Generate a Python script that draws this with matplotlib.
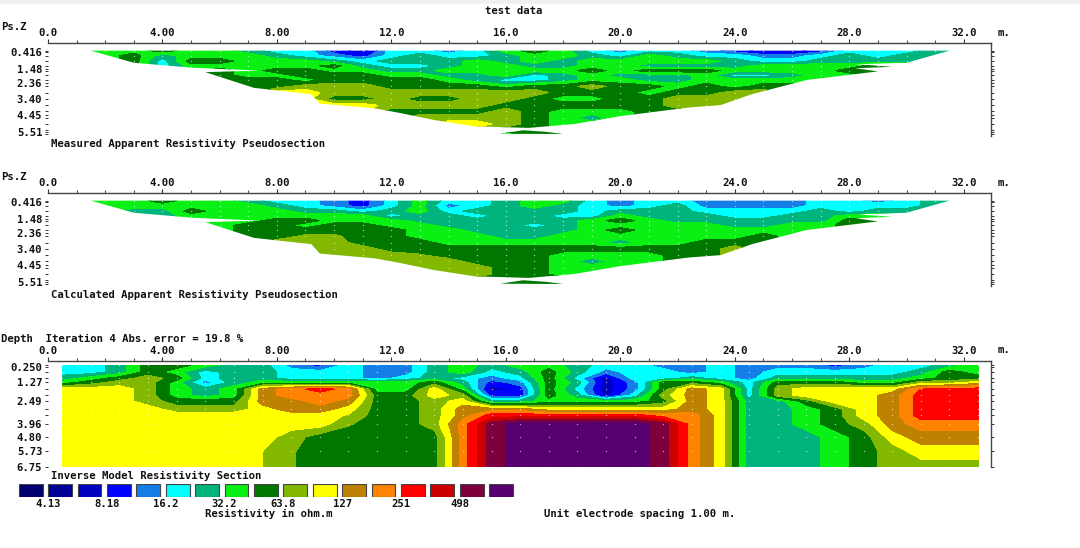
import numpy as np
import matplotlib
matplotlib.use("Agg")
import matplotlib.pyplot as plt
from matplotlib.path import Path
from matplotlib.patches import PathPatch, Rectangle

W, H = 1080, 548
FONT = dict(family="DejaVu Sans Mono", fontweight="bold", fontsize=7.65, color="#111111")

_ = np.nan

# one colour per resistivity class, values below are class numbers
class_colors = ["#00006e", "#000096", "#0000be", "#0000ff", "#147de6", "#00ffff",
                "#00b47d", "#0af014", "#007800", "#82b900", "#ffff00", "#be8200",
                "#ff8200", "#ff0000", "#cd0000", "#7d003c", "#55006e"]
legend_labels = ["4.13", "8.18", "16.2", "32.2", "63.8", "127", "251", "498"]

x_ticks = [0, 4, 8, 12, 16, 20, 24, 28, 32]
x_labels = ["0.0", "4.00", "8.00", "12.0", "16.0", "20.0", "24.0", "28.0", "32.0"]

pseudo_ticks = [0.416, 1.48, 2.36, 3.40, 4.45, 5.51]
pseudo_labels = ["0.416", "1.48", "2.36", "3.40", "4.45", "5.51"]
model_ticks = [0.25, 1.27, 2.49, 3.96, 4.80, 5.73, 6.75]
model_labels = ["0.250", "1.27", "2.49", "3.96", "4.80", "5.73", "6.75"]

pseudo_x = list(range(1, 33))
pseudo_z = [0.33, 0.65, 1.0, 1.3, 1.6, 1.9, 2.2, 2.6, 3.0, 3.4, 3.8, 4.2, 4.6, 5.0, 5.4, 5.65]

# edge of the measured points, same for both pseudosections
outline_x = [1.5, 31.5, 30, 28.2, 29.5, 28.2, 29, 26.5, 24.6, 23.5, 22.4, 20, 18.4, 16.8, 14.9,
             13.5, 12.3, 11.4, 9.5, 9.2, 7.2, 5.5, 7.4, 5.06, 3]
outline_z = [0.33, 0.33, 1.1, 1.2, 1.36, 1.45, 1.65, 2.2, 3.1, 3.8, 3.95, 4.5, 5.0, 5.25, 5.15,
             4.75, 4.3, 4.0, 3.7, 3.1, 2.7, 1.7, 1.6, 1.42, 1.1]
tip_x = [15.8, 16.6, 17.4, 18]
tip_z = [5.62, 5.4, 5.5, 5.64]

measured = [
    [7, 7, 7, 8, 7, 7, 6, 5, 5, 3, 2, 5, 5, 4, 5, 7, 8, 7, 5, 4, 5, 5, 4, 3, 2, 2, 3, 5, 5, 5, 6, 6],
    [7, 7, 8, 6, 7, 7, 7, 6, 5, 4, 3, 5, 6, 5, 5, 6, 7, 7, 6, 5, 7, 6, 5, 5, 4, 4, 5, 6, 5, 6, 6, 6],
    [_, _, 8, 5, 8, 8, 7, 7, 7, 6, 5, 6, 6, 6, 7, 6, 7, 6, 7, 7, 7, 7, 7, 6, 5, 5, 6, 6, 6, 6, 6, _],
    [_] * 4 + [7, 7, 7, 7, 7, 8, 6, 5, 5, 6, 7, 7, 6, 6, 7, 7, 6, 6, 6, 6, 7, 7, 7, 7, 8, 8] + [_] * 2,
    [_] * 5 + [8, 7, 8, 8, 7, 7, 6, 6, 7, 7, 7, 7, 7, 8, 7, 8, 8, 8, 7, 7, 7, 7, 8, 8] + [_] * 3,
    [_] * 5 + [8, 7, 7, 8, 8, 8, 7, 7, 6, 6, 7, 5, 6, 7, 6, 6, 6, 7, 5, 5, 6, 7, 7] + [_] * 4,
    [_] * 6 + [8, 8, 7, 8, 8, 8, 8, 7, 6, 5, 5, 6, 7, 7, 6, 6, 7, 7, 7, 7, 7] + [_] * 5,
    [_] * 7 + [8, 9, 9, 9, 8, 8, 8, 8, 7, 8, 8, 9, 8, 8, 7, 8, 7, 8, 8] + [_] * 6,
    [_] * 7 + [10, 10, 9, 9, 9, 9, 9, 9, 9, 9, 8, 8, 8, 7, 8, 8, 9, 9] + [_] * 7,
    [_] * 9 + [8, 8, 9, 8, 8, 9, 9, 8, 7, 7, 8, 8, 9, 9, 9, 9] + [_] * 7,
    [_] * 9 + [10, 10, 9, 9, 9, 9, 8, 8, 8, 8, 8, 8, 9, 9] + [_] * 9,
    [_] * 11 + [8, 8, 8, 8, 9, 8, 7, 7, 7, 8, 8] + [_] * 10,
    [_] * 12 + [9, 9, 9, 9, 8, 7, 6, 7] + [_] * 12,
    [_] * 13 + [10, 10, 9, 8, 7, 7] + [_] * 13,
    [_] * 14 + [9, 8, 8, 7] + [_] * 14,
    [_] * 15 + [7, 8, 8] + [_] * 14,
]

calculated = [
    [7, 7, 7, 8, 7, 7, 6, 5, 5, 4, 3, 5, 7, 5, 5, 6, 7, 7, 5, 4, 5, 5, 4, 4, 4, 4, 5, 5, 4, 5, 6, 6],
    [7, 7, 7, 7, 7, 7, 7, 6, 5, 4, 3, 5, 7, 4, 5, 6, 7, 6, 5, 4, 5, 6, 4, 4, 4, 4, 5, 5, 5, 5, 6, 6],
    [_, _, 6, 6, 8, 7, 7, 7, 6, 6, 5, 6, 7, 5, 6, 6, 6, 6, 5, 6, 6, 6, 5, 5, 5, 5, 6, 5, 6, 6, 6, _],
    [_] * 4 + [7, 7, 7, 7, 7, 7, 7, 5, 6, 6, 5, 6, 6, 5, 5, 7, 6, 6, 6, 5, 5, 6, 6, 7, 7, 7] + [_] * 2,
    [_] * 5 + [7, 7, 8, 8, 7, 7, 7, 6, 6, 6, 6, 6, 6, 7, 8, 7, 6, 6, 6, 6, 6, 6, 8, 8] + [_] * 3,
    [_] * 5 + [7, 8, 8, 7, 8, 8, 7, 7, 6, 6, 6, 5, 6, 7, 7, 7, 7, 7, 6, 6, 7, 7] + [_] * 5,
    [_] * 6 + [8, 8, 8, 8, 8, 8, 7, 7, 6, 6, 6, 6, 7, 8, 7, 7, 7, 7, 7, 7] + [_] * 6,
    [_] * 7 + [8, 8.7, 8.7, 8, 8, 7, 7, 7, 6, 6, 7, 7, 7, 7, 7, 7, 7, 8] + [_] * 7,
    [_] * 7 + [9, 9, 9, 8, 8, 8, 7, 7, 7, 7, 7, 7, 6, 7, 7, 8, 8, 8] + [_] * 7,
    [_] * 9 + [9, 9, 8, 8, 8, 8, 8, 8, 8, 8, 8, 8, 8, 8, 9] + [_] * 8,
    [_] * 9 + [9, 9, 9, 8.6, 8, 8, 8, 8, 7, 7, 7, 7, 8, 8] + [_] * 9,
    [_] * 11 + [9, 9, 9, 8, 8, 8, 7, 6, 7, 7, 8] + [_] * 10,
    [_] * 12 + [9, 9, 9, 8, 8, 7, 7, 7] + [_] * 12,
    [_] * 13 + [9, 9, 8, 8, 7, 7] + [_] * 13,
    [_] * 14 + [8, 8, 8, 8] + [_] * 14,
    [_] * 15 + [8, 8, 8] + [_] * 14,
]

model_x = [m + 0.5 for m in range(33)]
model_z = [0.14, 0.6, 1.0, 1.27, 1.7, 2.1, 2.49, 3.0, 3.4, 3.96, 4.8, 5.73, 6.75]
model = [
    [5, 5, 6, 8, 8, 7, 6, 6, 4, 3, 5, 4, 4, 6, 7, 6, 7, 7, 6, 5, 5, 4, 4, 5, 4, 4, 4, 3, 4, 5, 5, 6, 7],
    [5, 5, 6, 8, 7, 5, 6, 6, 5, 5, 5, 4, 4, 6, 7, 5, 6, 8, 6, 4, 5, 5, 4, 5, 4, 5, 5, 5, 5, 5, 6, 8, 7],
    [6, 7, 8, 9, 8, 5, 6, 6, 5, 5, 5, 4, 5, 6, 5, 4, 5, 8, 5, 2, 5, 5, 6, 5, 4, 6, 6, 6, 6, 6, 7, 8, 8],
    [7, 8, 9, 9, 7, 4, 6, 7, 7, 7, 7, 7, 7, 8, 6, 3, 4, 8, 6, 2, 4, 8, 8, 7, 5, 8, 8, 8, 7, 7, 9, 9, 10],
    [10, 10, 10, 9, 7, 6, 7, 11, 12, 13, 12, 7, 7, 10, 7, 2, 3, 8, 5, 2, 4, 8, 11, 10, 5, 9, 10, 10, 10, 10, 12.5, 13, 13],
    [10, 10, 10, 9, 7, 6, 7, 11, 12, 12, 12, 8, 8, 10, 9, 3, 3, 8, 6, 2, 5, 9, 11, 10, 5, 9, 10, 10, 10, 11, 13, 13, 13],
    [10, 10, 10, 9, 8, 8, 8, 11, 11, 12, 11, 8, 8, 9, 10, 6, 6, 7, 7, 7, 7, 8, 11, 10, 6, 6, 8, 10, 10, 11, 13, 13, 13],
    [10, 10, 10, 10, 9, 9, 9, 10, 11, 11, 10, 8, 8, 9, 11, 11, 11, 10, 10, 10, 10, 10, 11, 10, 6, 6, 7, 8, 10, 11, 13, 13, 13],
    [10, 10, 10, 10, 10, 10, 10, 10, 10, 10, 9.4, 8, 8, 9, 11, 13, 13, 13, 13, 13, 13, 12, 12, 10, 6, 6, 7, 8, 10, 11, 13, 13, 13],
    [10, 10, 10, 10, 10, 10, 10, 10, 10, 10, 8.6, 8, 8, 9, 12, 15, 16, 16, 16, 16, 16, 15, 12, 10, 6, 6, 7, 8, 9, 11, 12, 12, 12],
    [10, 10, 10, 10, 10, 10, 10, 10, 9, 8, 8, 8, 8, 8, 12, 15, 16, 16, 16, 16, 16, 15, 12, 10, 6, 6, 6, 7, 8, 10, 11, 11, 11],
    [10, 10, 10, 10, 10, 10, 10, 9.5, 8.6, 8, 8, 8, 8, 8, 12, 15, 16, 16, 16, 16, 16, 15, 12, 10, 6, 6, 6, 7, 8, 9, 10, 10, 10],
    [10, 10, 10, 10, 10, 10, 10, 9.5, 8.6, 8, 8, 8, 8, 8, 12, 15, 16, 16, 16, 16, 16, 15, 12, 10, 6, 6, 6, 7, 8, 9, 9, 9, 9],
]

levels = np.arange(-0.5, 17.5, 1)


def fill_down(rows):
    # cells outside the section take the value above, the clip path cuts them off
    grid = np.array(rows, dtype=float)
    for i in range(1, grid.shape[0]):
        empty = np.isnan(grid[i])
        grid[i][empty] = grid[i - 1][empty]
    return grid


def px_axes(fig, left, top, right, bottom):
    return fig.add_axes([left / W, 1 - bottom / H, (right - left) / W, (bottom - top) / H])


def style_axes(ax, z_lim, z_ticks, z_labels, z_minor):
    ax.set_xlim(0, 32.95)
    ax.set_ylim(z_lim[1], z_lim[0])
    for side in ["left", "bottom"]:
        ax.spines[side].set_visible(False)
    for side in ["top", "right"]:
        ax.spines[side].set_color("#444444")
        ax.spines[side].set_linewidth(1.0)
    ax.xaxis.tick_top()
    ax.set_xticks(x_ticks)
    ax.set_xticklabels(x_labels, **FONT)
    ax.set_xticks(range(33), minor=True)
    ax.set_yticks(z_ticks)
    ax.set_yticklabels(z_labels, **FONT)
    ax.set_yticks(z_minor, minor=True)
    ax.tick_params(axis="x", which="major", length=3, width=0.8, pad=0.5, color="#333333")
    ax.tick_params(axis="x", which="minor", length=2, width=0.8, color="#555555")
    ax.tick_params(axis="y", which="both", left=True, right=True, length=2, width=0.7,
                   pad=2, color="#333333")
    ax.patch.set_alpha(0)


def draw_section(ax, x, z, grid, clip=None):
    cs = ax.contourf(x, z, grid, levels=levels, colors=class_colors, antialiased=False)
    xx, zz = np.meshgrid(x, z)
    dots = ax.scatter(xx.ravel(), zz.ravel(), s=1.0, c="white", alpha=0.6, linewidths=0, zorder=3)
    if clip is not None:
        patch = PathPatch(clip, transform=ax.transData, fc="none", ec="none")
        ax.add_patch(patch)
        cs.set_clip_path(patch)
        dots.set_clip_path(patch)


def closed(xs, zs):
    pts = list(zip(xs, zs))
    pts.append(pts[0])
    return Path(pts, closed=True)


def label(fig, x, y, text, **kw):
    fig.text(x / W, 1 - y / H, text, va="center", **FONT, **kw)


fig = plt.figure(figsize=(W / 100, H / 100), dpi=100, facecolor="white")
fig.patches.append(Rectangle((0, 1 - 4 / H), 1, 4 / H, transform=fig.transFigure,
                             fc="#f0f0f0", ec="none"))

section_clip = Path.make_compound_path(closed(outline_x, outline_z), closed(tip_x, tip_z))

z_lim_pseudo = (-0.157, 5.766)
ax1 = px_axes(fig, 47.9, 43, 991, 136)
style_axes(ax1, z_lim_pseudo, pseudo_ticks, pseudo_labels, pseudo_z)
draw_section(ax1, pseudo_x, pseudo_z, fill_down(measured), section_clip)

ax2 = px_axes(fig, 47.9, 193, 991, 286)
style_axes(ax2, z_lim_pseudo, pseudo_ticks, pseudo_labels, pseudo_z)
draw_section(ax2, pseudo_x, pseudo_z, fill_down(calculated), section_clip)

ax3 = px_axes(fig, 47.9, 361, 991, 467)
style_axes(ax3, (-0.12, 6.75), model_ticks, model_labels, model_z)
draw_section(ax3, model_x, model_z, np.array(model, dtype=float))

# colour scale
ax4 = px_axes(fig, 17.3, 483.5, 17.3 + 29.4 * 17, 497)
ax4.bar(range(17), 1, width=0.81, align="edge", color=class_colors, edgecolor="#444444", linewidth=0.8)
ax4.set_xlim(-0.05, 16.95)
ax4.set_ylim(0, 1)
ax4.axis("off")
for i, text in enumerate(legend_labels):
    ax4.annotate(text, (2 * i + 1.0, 0), xytext=(0, -5), textcoords="offset points",
                 ha="center", va="center", annotation_clip=False, **FONT)

label(fig, 514, 11, "test data", ha="center")
label(fig, 1, 27, "Ps.Z")
label(fig, 998, 33, "m.")
label(fig, 51, 144, "Measured Apparent Resistivity Pseudosection")
label(fig, 1, 177, "Ps.Z")
label(fig, 998, 183, "m.")
label(fig, 51, 295, "Calculated Apparent Resistivity Pseudosection")
label(fig, 1, 339, "Depth  Iteration 4 Abs. error = 19.8 %")
label(fig, 998, 350, "m.")
label(fig, 51, 476, "Inverse Model Resistivity Section")
label(fig, 205, 514, "Resistivity in ohm.m")
label(fig, 544, 514, "Unit electrode spacing 1.00 m.")

plt.savefig("out.png", dpi=100, facecolor="white")
